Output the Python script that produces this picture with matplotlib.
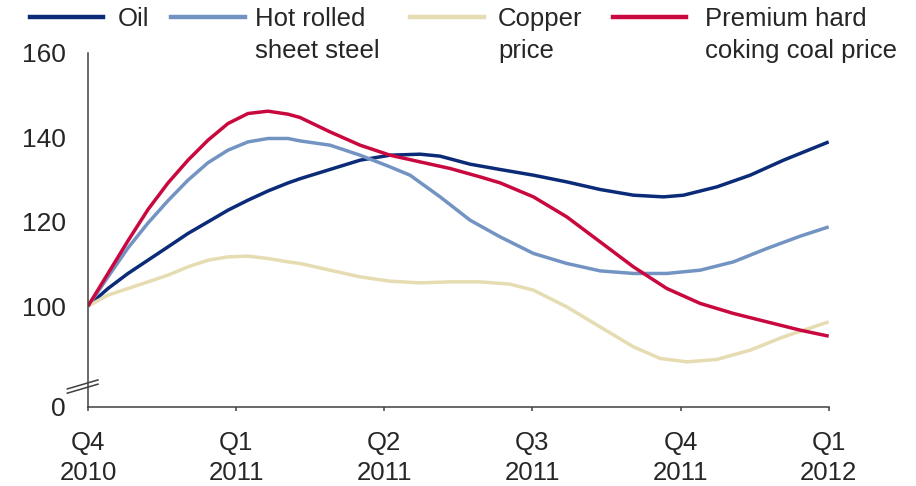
import matplotlib as mpl
mpl.use('Agg')
import matplotlib.pyplot as plt
from matplotlib.lines import Line2D

plt.rcParams['font.family'] = ['Liberation Sans', 'DejaVu Sans']

# x in quarters after Q4 2010, y indexed to 100
oil_x = [0, 0.135, 0.270, 0.405, 0.540, 0.675, 0.810, 0.945, 1.080, 1.215, 1.350, 1.431,
         1.634, 1.837, 2.039, 2.242, 2.377, 2.579, 2.782, 3.007, 3.232, 3.457, 3.682, 3.885,
         4.020, 4.245, 4.470, 4.695, 5.0]
oil_y = [100, 104.19, 107.75, 110.90, 114.05, 117.23, 119.98, 122.75, 125.12, 127.30, 129.20,
         130.20, 132.40, 134.60, 135.78, 136.02, 135.55, 133.65, 132.39, 131.04, 129.45, 127.65,
         126.30, 125.90, 126.30, 128.27, 131.04, 134.60, 138.93]

steel_x = [0, 0.135, 0.270, 0.405, 0.540, 0.675, 0.810, 0.945, 1.080, 1.215, 1.350, 1.431,
           1.634, 1.837, 2.039, 2.174, 2.377, 2.579, 2.782, 3.007, 3.232, 3.457, 3.682, 3.907,
           4.133, 4.357, 4.583, 4.808, 5.0]
steel_y = [100, 106.94, 113.80, 119.70, 125.00, 129.86, 134.00, 136.97, 138.93, 139.74, 139.74,
           139.17, 138.15, 135.78, 133.01, 131.04, 125.90, 120.38, 116.42, 112.49, 110.12, 108.36,
           107.75, 107.75, 108.53, 110.50, 113.67, 116.59, 118.79]

copper_x = [0, 0.135, 0.270, 0.405, 0.540, 0.675, 0.810, 0.945, 1.080, 1.215, 1.350, 1.431,
            1.634, 1.837, 2.039, 2.242, 2.444, 2.647, 2.849, 3.007, 3.232, 3.457, 3.682, 3.862,
            4.043, 4.245, 4.470, 4.695, 5.0]
copper_y = [100, 102.61, 104.19, 105.76, 107.35, 109.31, 110.90, 111.68, 111.85, 111.30, 110.50,
            110.12, 108.53, 106.94, 105.92, 105.52, 105.76, 105.76, 105.21, 103.79, 99.83, 95.09,
            90.36, 87.61, 86.80, 87.37, 89.57, 92.73, 96.28]

coal_x = [0, 0.135, 0.270, 0.405, 0.540, 0.675, 0.810, 0.945, 1.080, 1.215, 1.350, 1.431,
          1.634, 1.837, 2.039, 2.242, 2.444, 2.647, 2.782, 3.007, 3.232, 3.457, 3.682, 3.907,
          4.133, 4.357, 4.583, 4.808, 5.0]
coal_y = [100, 107.75, 115.50, 122.90, 129.20, 134.60, 139.34, 143.29, 145.66, 146.21, 145.50,
          144.72, 141.30, 138.15, 135.78, 134.19, 132.63, 130.64, 129.22, 125.90, 121.16, 115.24,
          109.31, 104.19, 100.64, 98.27, 96.28, 94.31, 92.89]

quarter_labels = ['Q4\n2010', 'Q1\n2011', 'Q2\n2011', 'Q3\n2011', 'Q4\n2011', 'Q1\n2012']
y_ticks = [100, 120, 140, 160]
y_bottom = 76.1  # broken axis, labelled as 0

series = [
    (oil_x, oil_y, '#0b2b78', 'Oil'),
    (steel_x, steel_y, '#7394c3', 'Hot rolled\nsheet steel'),
    (copper_x, copper_y, '#e6dcb2', 'Copper\nprice'),
    (coal_x, coal_y, '#c8083e', 'Premium hard\ncoking coal price'),
]

W, H = 916, 486
fig = plt.figure(figsize=(W / 100, H / 100), dpi=100)
ax = fig.add_axes([88 / W, (H - 407) / H, 740.7 / W, 354 / H])

text_col = '#262626'
fs = 18.5
for xs, ys, col, lab in series:
    ax.plot(xs, ys, color=col, linewidth=2.5, solid_capstyle='butt', solid_joinstyle='round')

ax.set_xlim(0, 5)
ax.set_ylim(y_bottom, 160)
ax.set_xticks(range(len(quarter_labels)))
ax.set_xticklabels(quarter_labels, fontsize=fs, color=text_col, linespacing=1.3)
ax.set_yticks([y_bottom] + y_ticks)
ax.set_yticklabels(['0'] + [str(v) for v in y_ticks], fontsize=19, color=text_col)

for s in ['top', 'right']:
    ax.spines[s].set_visible(False)
for s in ['left', 'bottom']:
    ax.spines[s].set_color('#404040')
    ax.spines[s].set_linewidth(1.1)
ax.tick_params(axis='y', length=0, pad=16)
ax.tick_params(axis='x', length=3, width=1.1, color='#404040', direction='out', pad=14.5)

# axis break marks
for dy in [0, -0.012]:
    ax.plot([-0.028, 0.0135], [0.051 + dy, 0.0765 + dy], transform=ax.transAxes,
            color='#404040', linewidth=1.1, clip_on=False)

# legend laid out across the top
leg_pos = [(30, 103, 118), (171, 245, 255), (410, 484, 498), (613, 686, 705)]
for (xs, ys, col, lab), (x0, x1, xt) in zip(series, leg_pos):
    fig.add_artist(Line2D([x0 / W, x1 / W], [1 - 17 / H, 1 - 17 / H], color=col,
                          linewidth=3.2, transform=fig.transFigure))
    fig.text(xt / W, 1 - 7 / H, lab, fontsize=fs, color=text_col, va='top', ha='left',
             linespacing=1.4)

plt.savefig('out.png', dpi=100)
